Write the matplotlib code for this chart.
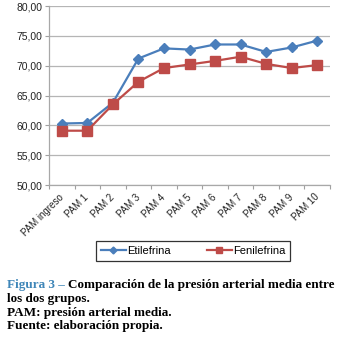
import matplotlib
matplotlib.use("Agg")
import matplotlib.pyplot as plt
from matplotlib.lines import Line2D
from matplotlib.ticker import FixedLocator, FuncFormatter

categories = ["PAM ingreso", "PAM 1", "PAM 2", "PAM 3", "PAM 4", "PAM 5",
              "PAM 6", "PAM 7", "PAM 8", "PAM 9", "PAM 10"]
etilefrina = [60.3, 60.4, 63.8, 71.2, 72.9, 72.7, 73.55, 73.55, 72.3, 73.05, 74.2]
fenilefrina = [59.1, 59.1, 63.5, 67.3, 69.6, 70.2, 70.8, 71.5, 70.3, 69.6, 70.1]
yticks = [50, 55, 60, 65, 70, 75, 80]

W, H = 341, 338
fig = plt.figure(figsize=(W / 100, H / 100), dpi=100)
fig.patch.set_facecolor("white")

ax = fig.add_axes([49 / W, 1 - 185 / H, 281 / W, 179 / H])
x = list(range(len(categories)))
blue = "#4a7ebb"
red = "#be4b48"
ax.plot(x, etilefrina, color=blue, lw=1.6, marker="D", ms=5.2, zorder=3)
ax.plot(x, fenilefrina, color=red, lw=1.6, marker="s", ms=6.8, zorder=3)

ax.set_xlim(-0.5, len(categories) - 0.5)
ax.set_ylim(50, 80)
ax.set_yticks(yticks)
ax.yaxis.set_major_formatter(FuncFormatter(lambda v, p: f"{v:.2f}".replace(".", ",")))
ax.grid(axis="y", color="#b5b5b5", lw=0.9)
ax.set_axisbelow(True)

ax.xaxis.set_major_locator(FixedLocator([i - 0.5 for i in range(len(categories) + 1)]))
ax.xaxis.set_minor_locator(FixedLocator(x))
ax.set_xticklabels([], minor=False)
ax.set_xticklabels(categories, minor=True, rotation=45, ha="right",
                   rotation_mode="anchor", va="center",
                   fontsize=7.0, family="Liberation Sans", color="#222222")
ax.tick_params(axis="x", which="major", length=3, color="#a0a0a0", width=0.8)
ax.tick_params(axis="x", which="minor", length=0, pad=7.5)
ax.tick_params(axis="y", length=3, color="#a0a0a0", width=0.8, pad=2,
               labelsize=7.5, labelcolor="#222222")
for lab in ax.get_yticklabels():
    lab.set_family("Liberation Sans")

for s in ["top", "right"]:
    ax.spines[s].set_visible(False)
for s in ["left", "bottom"]:
    ax.spines[s].set_color("#a8a8a8")
    ax.spines[s].set_linewidth(0.9)

handles = [Line2D([], [], color=blue, lw=1.6, marker="D", ms=3.5),
           Line2D([], [], color=red, lw=1.6, marker="s", ms=4.5)]
leg = fig.legend(handles, ["Etilefrina", "Fenilefrina"], loc="center",
                 bbox_to_anchor=(193 / W, 1 - 251 / H), ncol=2, frameon=True,
                 fancybox=False, edgecolor="black",
                 prop={"family": "Liberation Sans", "size": 8},
                 handlelength=2.25, handletextpad=0.1, columnspacing=3.3,
                 borderpad=0.45)
leg.get_frame().set_linewidth(0.9)

# caption
fig.canvas.draw()
r = fig.canvas.get_renderer()
line1a = "Figura 3 \u2013 "
line1b = "Comparación de la presión arterial media entre"
fam = "Liberation Serif"
probe = fig.text(0, 0, line1a + line1b, family=fam, weight="bold", size=10)
wprobe = probe.get_window_extent(renderer=r).width
probe.remove()
size = 10 * 329 / wprobe
cap_font = dict(family=fam, weight="bold", size=size, va="baseline")
t1 = fig.text(7 / W, 1 - 288 / H, line1a, color="#3f86b8", **cap_font)
bb = t1.get_window_extent(renderer=r)
fig.text(bb.x1 / W, 1 - 288 / H, line1b, color="black", **cap_font)
fig.text(7 / W, 1 - 302 / H, "los dos grupos.", color="black", **cap_font)
fig.text(7 / W, 1 - 316 / H, "PAM: presión arterial media.", color="black", **cap_font)
fig.text(7 / W, 1 - 329 / H, "Fuente: elaboración propia.", color="black", **cap_font)

fig.savefig("out.png", dpi=100)
